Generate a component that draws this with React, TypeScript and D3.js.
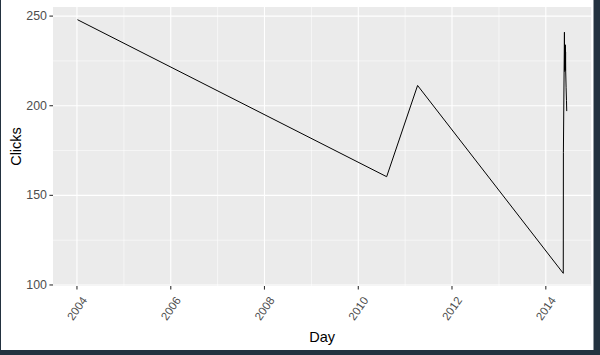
import React from "react";
import * as d3 from "d3";

const days: string[] = [
  "2004-01-05", "2010-08-10", "2011-04-08", "2014-05-17", "2014-05-18",
  "2014-05-26", "2014-05-27", "2014-05-28", "2014-05-29", "2014-05-30",
  "2014-05-31", "2014-06-01", "2014-06-02", "2014-06-03", "2014-06-04",
  "2014-06-05", "2014-06-08", "2014-06-11", "2014-06-13",
];
const clicks: number[] = [
  248, 160.4, 211.3, 106.5, 174,
  241, 228, 220, 233, 219,
  231, 222, 234, 220, 230,
  219, 210, 203, 197,
];
const yTicks: number[] = [100, 150, 200, 250];
const yMinor: number[] = [125, 175, 225];
const xTickYears: number[] = [2004, 2006, 2008, 2010, 2012, 2014];
const xMinorYears: number[] = [2005, 2007, 2009, 2011, 2013];

const W = 600;
const H = 355;
const FONT = "'Liberation Sans', Arial, sans-serif";

export default function App() {
  const parse = d3.timeParse("%Y-%m-%d");
  const dates = days.map((d) => parse(d) as Date);
  const data = dates.map((d, i) => ({ d, v: clicks[i] }));

  const panel = { left: 53, right: 591.2, top: 7, bottom: 286 };

  const [dMin, dMax] = d3.extent(dates) as [Date, Date];
  const span = +dMax - +dMin;
  const x = d3
    .scaleTime()
    .domain([new Date(+dMin - span * 0.05), new Date(+dMax + span * 0.05)])
    .range([panel.left, panel.right]);

  const [vMin, vMax] = d3.extent(clicks) as [number, number];
  const vSpan = vMax - vMin;
  const y = d3
    .scaleLinear()
    .domain([vMin - vSpan * 0.05, vMax + vSpan * 0.05])
    .range([panel.bottom, panel.top]);

  const line = d3
    .line<{ d: Date; v: number }>()
    .x((p) => x(p.d))
    .y((p) => y(p.v));

  const yearDate = (yr: number) => new Date(yr, 0, 1);

  return (
    <svg
      width={W}
      height={H}
      style={{ position: "absolute", left: 0, top: 0, display: "block" }}
    >
      <rect x={0} y={0} width={W} height={H} fill="#233240" />
      <rect x={1} y={0} width={592.5} height={350} fill="#ffffff" />
      <rect
        x={panel.left}
        y={panel.top}
        width={panel.right - panel.left}
        height={panel.bottom - panel.top}
        fill="#EBEBEB"
      />
      {yMinor.map((v) => (
        <line
          key={"ym" + v}
          x1={panel.left}
          x2={panel.right}
          y1={y(v)}
          y2={y(v)}
          stroke="#ffffff"
          strokeWidth={0.55}
        />
      ))}
      {xMinorYears.map((yr) => (
        <line
          key={"xm" + yr}
          x1={x(yearDate(yr))}
          x2={x(yearDate(yr))}
          y1={panel.top}
          y2={panel.bottom}
          stroke="#ffffff"
          strokeWidth={0.55}
        />
      ))}
      {yTicks.map((v) => (
        <line
          key={"yg" + v}
          x1={panel.left}
          x2={panel.right}
          y1={y(v)}
          y2={y(v)}
          stroke="#ffffff"
          strokeWidth={1.1}
        />
      ))}
      {xTickYears.map((yr) => (
        <line
          key={"xg" + yr}
          x1={x(yearDate(yr))}
          x2={x(yearDate(yr))}
          y1={panel.top}
          y2={panel.bottom}
          stroke="#ffffff"
          strokeWidth={1.1}
        />
      ))}
      <path d={line(data) || ""} fill="none" stroke="#000000" strokeWidth={1} />
      {yTicks.map((v) => (
        <g key={"yt" + v}>
          <line
            x1={panel.left - 3.6}
            x2={panel.left}
            y1={y(v)}
            y2={y(v)}
            stroke="#333333"
            strokeWidth={1.1}
          />
          <text
            x={panel.left - 6}
            y={y(v)}
            textAnchor="end"
            dominantBaseline="central"
            fontFamily={FONT}
            fontSize={12.4}
            fill="#4D4D4D"
          >
            {v}
          </text>
        </g>
      ))}
      {xTickYears.map((yr) => {
        const px = x(yearDate(yr));
        return (
          <g key={"xt" + yr}>
            <line
              x1={px}
              x2={px}
              y1={panel.bottom}
              y2={panel.bottom + 3.6}
              stroke="#333333"
              strokeWidth={1.1}
            />
            <text
              transform={`translate(${px},${308.5}) rotate(-55)`}
              textAnchor="middle"
              dominantBaseline="central"
              fontFamily={FONT}
              fontSize={11.5}
              fill="#4D4D4D"
            >
              {String(yr)}
            </text>
          </g>
        );
      })}
      <text
        x={(panel.left + panel.right) / 2}
        y={342}
        textAnchor="middle"
        fontFamily={FONT}
        fontSize={14.5}
        fill="#000000"
      >
        Day
      </text>
      <text
        transform={`translate(${21},${(panel.top + panel.bottom) / 2}) rotate(-90)`}
        textAnchor="middle"
        fontFamily={FONT}
        fontSize={14.5}
        fill="#000000"
      >
        Clicks
      </text>
    </svg>
  );
}
